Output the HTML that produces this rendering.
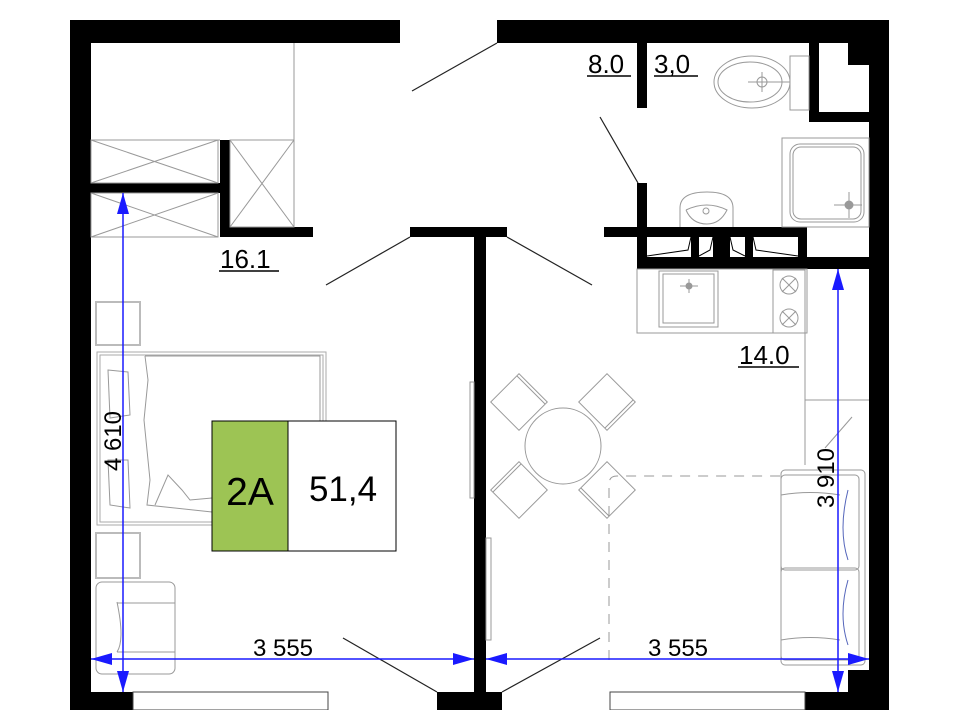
<!DOCTYPE html>
<html><head><meta charset="utf-8"><style>
html,body{margin:0;padding:0;background:#fff;}
svg{display:block;}
text{font-family:"Liberation Sans",sans-serif;}
</style></head><body>
<svg width="960" height="710" viewBox="0 0 960 710" xmlns="http://www.w3.org/2000/svg">
<g fill="#000">
<rect x="70" y="20" width="330" height="23"/>
<rect x="70" y="20" width="21" height="690"/>
<rect x="497" y="20" width="392" height="23"/>
<rect x="869" y="20" width="20" height="690"/>
<rect x="91" y="183" width="139" height="10"/>
<rect x="220" y="140" width="10" height="97"/>
<rect x="220" y="227" width="93" height="10"/>
<rect x="410" y="227" width="97" height="10"/>
<rect x="474" y="227" width="12" height="483"/>
<rect x="637" y="43" width="10" height="65"/>
<rect x="637" y="183" width="10" height="54"/>
<rect x="604" y="227" width="203" height="10"/>
<rect x="637" y="257" width="232" height="12"/>
<rect x="637" y="237" width="10" height="20"/>
<rect x="691" y="237" width="8" height="20"/>
<rect x="713" y="237" width="17" height="20"/>
<rect x="745" y="237" width="8" height="20"/>
<rect x="798" y="237" width="9" height="20"/>
<rect x="809" y="43" width="10" height="79"/>
<rect x="809" y="112" width="60" height="10"/>
<rect x="848" y="43" width="21" height="22"/>
<rect x="70" y="692" width="63" height="18"/>
<rect x="437" y="692" width="65" height="18"/>
<rect x="805" y="692" width="64" height="18"/>
<rect x="848" y="670" width="21" height="22"/>
</g>
<g stroke="#000" stroke-width="1" fill="none">
<path d="M647,256 L688,250 L691,237"/>
<path d="M699,256 L710,250 L713,237"/>
<path d="M730,237 L733,250 L745,256"/>
<path d="M753,237 L756,250 L798,256"/>
</g>
<g stroke="#222" stroke-width="1.2">
<line x1="497" y1="43" x2="412" y2="91"/>
<line x1="410" y1="237" x2="326" y2="285"/>
<line x1="507" y1="237" x2="592" y2="285"/>
<line x1="638" y1="183" x2="600" y2="117"/>
<line x1="343" y1="638" x2="437" y2="692"/>
<line x1="600" y1="638" x2="502" y2="692"/>
</g>
<g stroke="#999" stroke-width="1" fill="none">
<line x1="294" y1="43" x2="294" y2="227"/>
<line x1="91" y1="140" x2="220" y2="140"/>
<line x1="230" y1="140" x2="294" y2="140"/>
<rect x="91" y="140" width="127" height="43"/><line x1="91" y1="140" x2="218" y2="183"/><line x1="91" y1="183" x2="218" y2="140"/>
<rect x="91" y="193" width="127" height="44"/><line x1="91" y1="193" x2="218" y2="237"/><line x1="91" y1="237" x2="218" y2="193"/>
<rect x="230" y="140" width="64" height="87"/><line x1="230" y1="140" x2="294" y2="227"/><line x1="230" y1="227" x2="294" y2="140"/>
<rect x="133" y="692" width="195" height="18" stroke="#444"/>
<rect x="610" y="692" width="195" height="18" stroke="#444"/>
<rect x="96" y="302" width="44" height="43" stroke-width="2" stroke="#bbb"/>
<rect x="96" y="533" width="44" height="45" stroke-width="2" stroke="#bbb"/>
<rect x="97" y="352" width="229" height="173" stroke-width="1" stroke="#aaa"/>
<rect x="100" y="355" width="223" height="167" stroke="#aaa"/>
<path d="M145,356 L320,356 L320,525 M145,356 L148,380 L144,420 L150,480 L147,505 L212,512"/>
<path d="M108,370 L128,372 L130,415 L110,418 Z M108,460 L128,460 L130,508 L110,505 Z"/>
<path d="M155,505 L168,475 L182,490 L190,500 L212,498"/>
<rect x="96" y="582" width="79" height="92" rx="6"/>
<path d="M117,602 Q125,640 117,652 M117,603 L175,603 M117,652 L175,652"/>
<rect x="470" y="382" width="4" height="116"/>
<rect x="486" y="538" width="5" height="102"/>
<circle cx="563" cy="446" r="38"/>
<g transform="translate(519,402) rotate(45)"><rect x="-20" y="-20" width="40" height="40"/><line x1="20" y1="-17" x2="-20" y2="-17"/></g>
<g transform="translate(607,402) rotate(45)"><rect x="-20" y="-20" width="40" height="40"/><line x1="17" y1="-20" x2="17" y2="20"/></g>
<g transform="translate(519,490) rotate(45)"><rect x="-20" y="-20" width="40" height="40"/><line x1="-17" y1="-20" x2="-17" y2="20"/></g>
<g transform="translate(607,490) rotate(45)"><rect x="-20" y="-20" width="40" height="40"/><line x1="-20" y1="17" x2="20" y2="17"/></g>
<path d="M609,660 L609,484 Q609,476 617,476 L780,476" stroke-dasharray="10,8"/>
<ellipse cx="752" cy="82" rx="38" ry="26"/>
<ellipse cx="750" cy="82" rx="32" ry="20"/>
<rect x="790" y="56" width="19" height="54"/>
<circle cx="762" cy="82" r="5"/><line x1="748" y1="82" x2="790" y2="82"/><line x1="762" y1="72" x2="762" y2="92"/>
<rect x="782" y="138" width="87" height="89"/>
<rect x="790" y="144" width="74" height="78" rx="10"/>
<rect x="793" y="147" width="68" height="72" rx="8"/>
<circle cx="849" cy="205" r="4" fill="#999"/><line x1="834" y1="205" x2="862" y2="205"/><line x1="849" y1="192" x2="849" y2="218"/>
<path d="M680,227 L680,208 Q680,192 707,192 Q733,192 733,208 L733,227"/>
<path d="M686,210 Q707,200 727,210 Q720,224 707,224 Q692,224 686,210"/>
<circle cx="706" cy="211" r="3"/>
<rect x="637" y="269" width="170" height="64"/>
<rect x="659" y="271" width="59" height="56"/>
<rect x="663" y="274" width="51" height="49"/>
<circle cx="689" cy="286" r="3" fill="#999"/><line x1="680" y1="286" x2="698" y2="286"/><line x1="689" y1="279" x2="689" y2="293"/>
<rect x="773" y="270" width="32" height="63"/>
<circle cx="789" cy="285" r="9"/><circle cx="789" cy="318" r="9"/>
<line x1="782" y1="278" x2="796" y2="292"/><line x1="796" y1="278" x2="782" y2="292"/>
<line x1="782" y1="311" x2="796" y2="325"/><line x1="796" y1="311" x2="782" y2="325"/>
<line x1="805" y1="269" x2="805" y2="465"/>
<line x1="805" y1="400" x2="869" y2="400"/>
<line x1="825" y1="448" x2="852" y2="417"/>
<rect x="781" y="470" width="84" height="195" rx="4"/>
<rect x="781" y="475" width="78" height="95" rx="4"/>
<rect x="781" y="568" width="78" height="92" rx="4"/>
<path d="M781,495 Q810,490 840,495 M781,640 Q810,635 840,640"/>
</g>
<path d="M848,490 Q838,530 848,560 M848,580 Q838,615 848,645" stroke="#5566bb" fill="none"/>
<rect x="212" y="421" width="76" height="130" fill="#9dc454" stroke="#000"/>
<rect x="288" y="421" width="108" height="130" fill="#fff" stroke="#000"/>
<text x="250" y="505" font-size="39" text-anchor="middle" fill="#000">2A</text>
<text x="343" y="501" font-size="35" text-anchor="middle" fill="#000">51,4</text>
<g font-size="26" fill="#000">
<text x="220" y="268">16.1</text><line x1="219" y1="271" x2="279" y2="271" stroke="#000" stroke-width="1.5"/>
<text x="588" y="73">8.0</text><line x1="587" y1="76" x2="631" y2="76" stroke="#000" stroke-width="1.5"/>
<text x="654" y="73">3,0</text><line x1="654" y1="76" x2="698" y2="76" stroke="#000" stroke-width="1.5"/>
<text x="739" y="364">14.0</text><line x1="738" y1="367" x2="799" y2="367" stroke="#000" stroke-width="1.5"/>
</g>
<g stroke="#1a1aff" stroke-width="1.5" fill="#1a1aff">
<line x1="91" y1="659" x2="474" y2="659"/>
<line x1="486" y1="659" x2="869" y2="659"/>
<line x1="123" y1="193" x2="123" y2="692"/>
<line x1="838" y1="269" x2="838" y2="692"/>
<polygon points="91,659 112,653 112,665" stroke="none"/>
<polygon points="474,659 453,653 453,665" stroke="none"/>
<polygon points="486,659 507,653 507,665" stroke="none"/>
<polygon points="869,659 848,653 848,665" stroke="none"/>
<polygon points="123,193 117,214 129,214" stroke="none"/>
<polygon points="123,692 117,671 129,671" stroke="none"/>
<polygon points="838,269 832,290 844,290" stroke="none"/>
<polygon points="838,692 832,671 844,671" stroke="none"/>
</g>
<g font-size="24" fill="#000">
<text x="283" y="656" text-anchor="middle">3 555</text>
<text x="678" y="656" text-anchor="middle">3 555</text>
<text transform="translate(121,441) rotate(-90)" text-anchor="middle">4 610</text>
<text transform="translate(834,478) rotate(-90)" text-anchor="middle">3 910</text>
</g>
</svg>
</body></html>
